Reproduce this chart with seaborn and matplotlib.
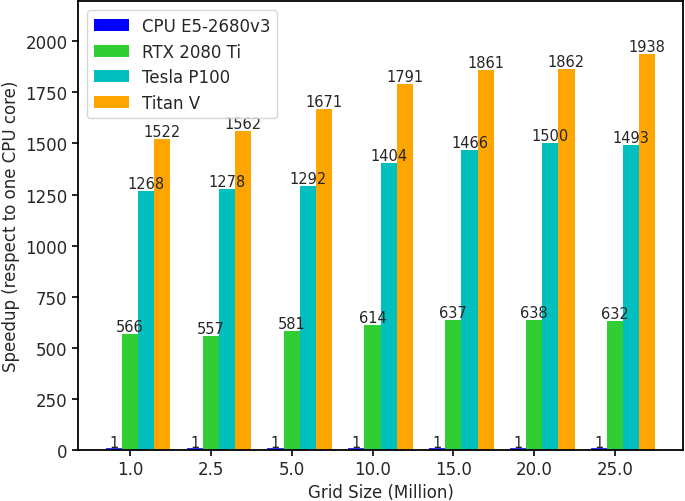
import matplotlib
matplotlib.use("Agg")
import matplotlib.pyplot as plt
import seaborn as sns
import numpy as np

grid_sizes = ["1.0", "2.5", "5.0", "10.0", "15.0", "20.0", "25.0"]
devices = ["CPU E5-2680v3", "RTX 2080 Ti", "Tesla P100", "Titan V"]
cpu = [1, 1, 1, 1, 1, 1, 1]
rtx = [566, 557, 581, 614, 637, 638, 632]
p100 = [1268, 1278, 1292, 1404, 1466, 1500, 1493]
titanv = [1522, 1562, 1671, 1791, 1861, 1862, 1938]
colors = sns.color_palette(["#0000ff", "#32cd32", "#00bfbf", "#ffa500"])

sns.set_style("ticks")
plt.rcParams["font.family"] = ["DejaVu Sans"]

fig = plt.figure(figsize=(6.85, 5.02), dpi=100)
ax = fig.add_axes([0.1139, 0.1016, 0.883, 0.894])

x = np.arange(len(grid_sizes))
width = 0.2
for i, (dev, vals) in enumerate(zip(devices, [cpu, rtx, p100, titanv])):
    if i == 0:
        kw = dict(edgecolor=colors[0], linewidth=2.6, joinstyle="miter")
    else:
        kw = dict(linewidth=0)
    bars = ax.bar(x + (i - 1) * width, vals, width, color=colors[i], label=dev, **kw)
    ax.bar_label(bars, labels=[str(v) for v in vals], fontsize=10.5, padding=0)

ax.set_xticks(x)
ax.set_xticklabels(grid_sizes)
ax.set_xlim(-0.644, 6.84)
ax.set_ylim(0, 2196)
ax.set_yticks([0, 250, 500, 750, 1000, 1250, 1500, 1750, 2000])
ax.tick_params(labelsize=12, length=4, width=1.2, color="black")
ax.set_xlabel("Grid Size (Million)", fontsize=12, labelpad=3)
ax.set_ylabel("Speedup (respect to one CPU core)", fontsize=12)
for s in ax.spines.values():
    s.set_linewidth(1.3)
    s.set_color("black")
    s.set_visible(True)
leg = ax.legend(loc="upper left", fontsize=12, frameon=True, handlelength=2.1,
                labelspacing=0.45, borderaxespad=0.55)
for h in leg.legend_handles:
    h.set_linewidth(0)

fig.savefig("out.png", dpi=100)
